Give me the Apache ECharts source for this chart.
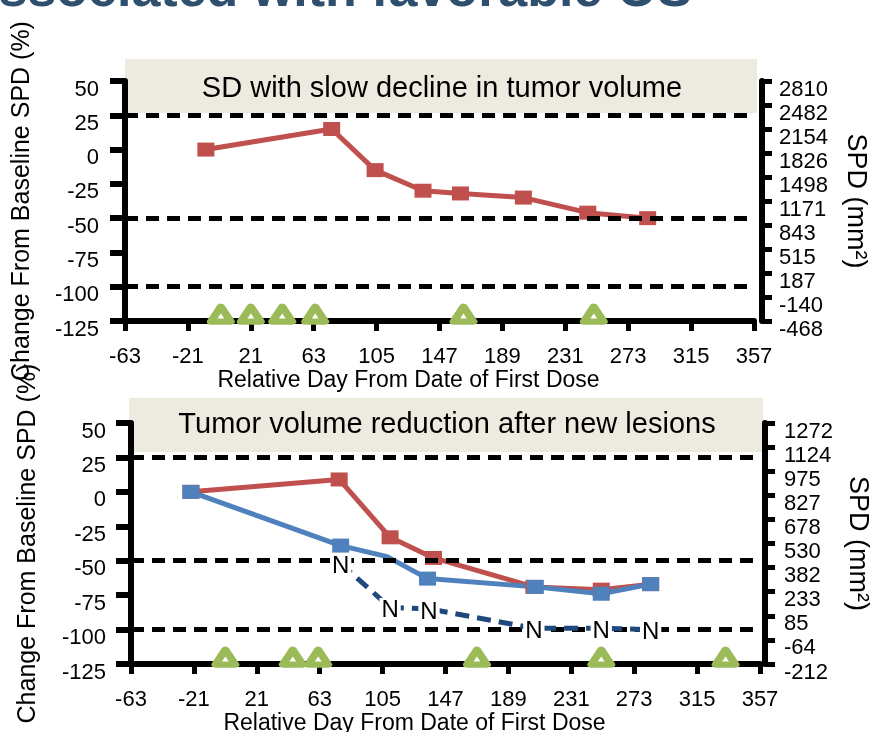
<!DOCTYPE html>
<html>
<head>
<meta charset="utf-8">
<script src="https://cdn.jsdelivr.net/npm/echarts@6/dist/echarts.min.js"></script>
<style>
  html, body { margin: 0; padding: 0; background: #ffffff; }
  #chart { width: 879px; height: 732px; }
</style>
</head>
<body>
<div id="chart"></div>
<script>
// ---- Shared axis ticks ----
const dayTicks = [-63, -21, 21, 63, 105, 147, 189, 231, 273, 315, 357];
const pctMin = -125, pctMax = 50, pctStep = 25;
const refLevels = [25, -50, -100];          // dashed response thresholds (%)
const doseMarkerPct = -120;                 // row where dosing triangles sit

// ---- Panel 1: SD with slow decline in tumor volume ----
const p1Title = 'SD with slow decline in tumor volume';
const p1Days = [-9, 75, 104, 136, 161, 203, 246, 286];
const p1Pct = [0, 15, -15, -30, -32, -35, -46, -50];
const p1DoseDays = [1, 21, 42, 64, 163, 250];
const p1SpdTicks = ['-468', '-140', '187', '515', '843', '1171', '1498', '1826', '2154', '2482', '2810'];

// ---- Panel 2: Tumor volume reduction after new lesions ----
const p2Title = 'Tumor volume reduction after new lesions';
const p2RedDays = [-23, 76, 110, 139, 206, 251, 284];
const p2RedPct = [0, 9, -33, -48, -69, -71, -67];
const p2BlueDays = [-23, 77, 108, 135, 207, 251, 284];
const p2BluePct = [0, -39, -47, -63, -69, -74, -67];
const p2BlueNoMarkerDay = 108;
const p2NewDays = [77, 110, 136, 206, 251, 284];
const p2NewPct = [-52, -84, -85, -99, -99, -100];
const p2DoseDays = [0, 45, 62, 168, 251, 334];
const p2SpdTicks = ['-212', '-64', '85', '233', '382', '530', '678', '827', '975', '1124', '1272'];

const FONT = '"Liberation Sans", Arial, sans-serif';
const RED = '#C0504D', BLUE = '#4F81BD', NAVY = '#1F497D', GREEN = '#9BBB59';
const BOX = '#EDEBE0';

const pairs = (xs, ys) => xs.map((x, i) => [x, ys[i]]);

const grids = [
  { left: 125, right: 125, top: 81, height: 240, outerBoundsMode: 'none', containLabel: false },
  { left: 131, right: 119, top: 423, height: 241, outerBoundsMode: 'none', containLabel: false }
];

function xAxisFor(gi) {
  return {
    type: 'value', gridIndex: gi, min: -63, max: 357, interval: 42,
    name: 'Relative Day From Date of First Dose', nameLocation: 'middle', nameGap: 44,
    nameTextStyle: { fontFamily: FONT, fontSize: 23, color: '#000', padding: [0, 62, 0, 0] },
    axisLine: { show: true, onZero: false, lineStyle: { color: '#000', width: 6 } },
    axisTick: { show: true, length: 10, lineStyle: { color: '#000', width: 5 }, customValues: dayTicks },
    axisLabel: { fontFamily: FONT, fontSize: 22, color: '#000', margin: 25, customValues: dayTicks },
    splitLine: { show: false }
  };
}

// value labels sit a little below their tick marks
const yLabelStyle = { fontFamily: FONT, fontSize: 22, color: '#000', verticalAlign: 'top', lineHeight: 17 };

function leftAxisFor(gi, margin) {
  return {
    type: 'value', gridIndex: gi, position: 'left', min: pctMin, max: pctMax, interval: pctStep,
    name: 'Change From Baseline SPD (%)', nameLocation: 'middle', nameGap: 90,
    nameTextStyle: { fontFamily: FONT, fontSize: 25, color: '#000' },
    axisLine: { show: true, onZero: false, lineStyle: { color: '#000', width: 6 } },
    axisTick: { show: true, length: 15, lineStyle: { color: '#000', width: 6 } },
    axisLabel: Object.assign({ margin: margin }, yLabelStyle),
    splitLine: { show: false }
  };
}

function rightAxisFor(gi, labels, offset, margin, gap) {
  return {
    type: 'value', gridIndex: gi, position: 'right', offset: offset,
    min: 0, max: labels.length - 1, interval: 1,
    name: 'SPD (mm²)', nameLocation: 'middle', nameGap: gap, nameRotate: -90,
    nameTextStyle: { fontFamily: FONT, fontSize: 27, color: '#000' },
    axisLine: { show: true, onZero: false, lineStyle: { color: '#000', width: 6 } },
    axisTick: { show: true, length: 10, lineStyle: { color: '#000', width: 5 } },
    axisLabel: Object.assign({ margin: margin, formatter: (v) => labels[Math.round(v)] }, yLabelStyle),
    splitLine: { show: false }
  };
}

function thresholdSeries(xi, yi) {
  return {
    type: 'line', xAxisIndex: xi, yAxisIndex: yi, data: [], z: 1, silent: true,
    markLine: {
      silent: true, symbol: ['none', 'none'], label: { show: false },
      lineStyle: { color: '#000', width: 5, type: [13, 8] },
      data: refLevels.map(v => ({ yAxis: v }))
    }
  };
}

function doseSeries(xi, yi, days) {
  return {
    type: 'scatter', xAxisIndex: xi, yAxisIndex: yi, z: 4, silent: true,
    symbol: 'triangle', symbolSize: [20, 15],
    itemStyle: { color: '#ffffff', borderColor: GREEN, borderWidth: 7, borderJoin: 'round', opacity: 1 },
    data: days.map(d => [d, doseMarkerPct])
  };
}

function sqLine(xi, yi, data, color) {
  return {
    type: 'line', xAxisIndex: xi, yAxisIndex: yi, z: 3, silent: true,
    data: data, symbol: 'rect', symbolSize: [17, 14], showSymbol: true,
    lineStyle: { color: color, width: 5 }, itemStyle: { color: color },
    animation: false
  };
}

const blueData = pairs(p2BlueDays, p2BluePct).map(p =>
  p[0] === p2BlueNoMarkerDay ? { value: p, symbol: 'none' } : p);

const option = {
  animation: false,
  backgroundColor: '#ffffff',
  grid: grids,
  xAxis: [xAxisFor(0), xAxisFor(1)],
  yAxis: [
    leftAxisFor(0, 26),
    rightAxisFor(0, p1SpdTicks, 8, 17, 80),
    leftAxisFor(1, 25),
    rightAxisFor(1, p2SpdTicks, 5, 19, 76)
  ],
  graphic: [
    // slide heading running off the top edge
    { type: 'text', right: 187, top: -34, z: 10,
      style: { text: 'associated with favorable OS', font: 'bold 52px ' + FONT, fill: '#2E4F6E' } },
    // panel title boxes
    { type: 'rect', shape: { x: 125, y: 59, width: 632, height: 54 }, style: { fill: BOX }, z: -1 },
    { type: 'text', x: 442, y: 89, z: 10,
      style: { text: p1Title, font: '29px ' + FONT, fill: '#000', align: 'center', verticalAlign: 'middle' } },
    { type: 'rect', shape: { x: 129, y: 398, width: 634, height: 54 }, style: { fill: BOX }, z: -1 },
    { type: 'text', x: 447, y: 425, z: 10,
      style: { text: p2Title, font: '29px ' + FONT, fill: '#000', align: 'center', verticalAlign: 'middle' } }
  ],
  series: [
    thresholdSeries(0, 0),
    doseSeries(0, 0, p1DoseDays),
    sqLine(0, 0, pairs(p1Days, p1Pct), RED),

    thresholdSeries(1, 2),
    doseSeries(1, 2, p2DoseDays),
    sqLine(1, 2, pairs(p2RedDays, p2RedPct), RED),
    sqLine(1, 2, blueData, BLUE),
    {
      type: 'line', xAxisIndex: 1, yAxisIndex: 2, z: 6, silent: true,
      data: pairs(p2NewDays, p2NewPct),
      symbol: 'circle', symbolSize: 1, showSymbol: true,
      lineStyle: { color: NAVY, width: 5, type: [14, 8] },
      itemStyle: { color: NAVY },
      label: { show: true, position: 'inside', formatter: 'N', fontFamily: FONT, fontSize: 24,
        color: '#000', backgroundColor: '#ffffff', padding: [1, 2, 0, 2], offset: [0, 3] }
    }
  ]
};

const chart = echarts.init(document.getElementById('chart'), null, { renderer: 'canvas' });
chart.setOption(option);
</script>
</body>
</html>
